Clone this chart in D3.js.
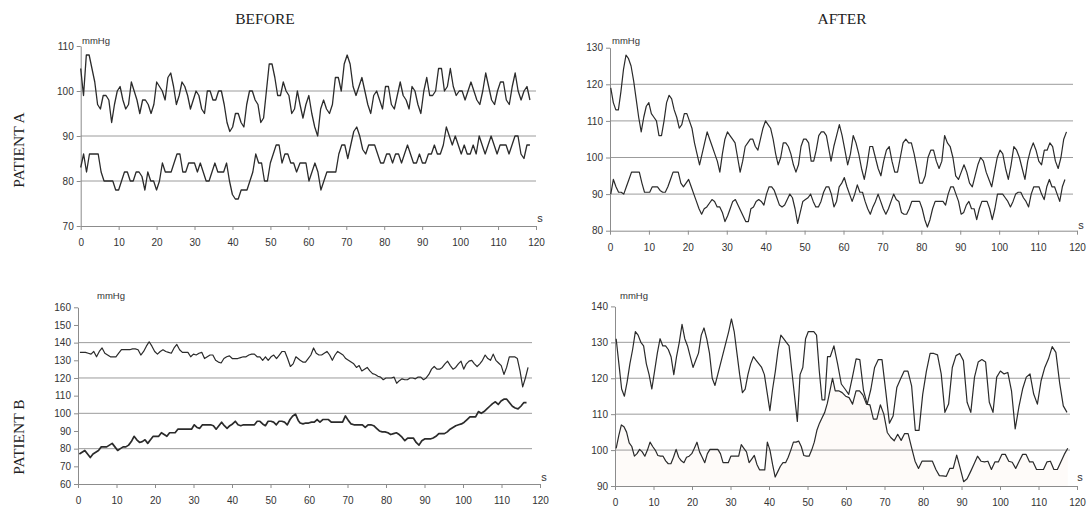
<!DOCTYPE html>
<html>
<head>
<meta charset="utf-8">
<script src="https://cdn.jsdelivr.net/npm/d3@7"></script>
<style>
  body { margin: 0; background: #fff; }
  svg text { font-family: "Liberation Sans", Arial, sans-serif; }
</style>
</head>
<body>
<script>
// ---- labels ----
var columnTitles = ["BEFORE", "AFTER"];
var rowTitles = ["PATIENT A", "PATIENT B"];
var unitY = "mmHg", unitX = "s";
var xTickValues = [0, 10, 20, 30, 40, 50, 60, 70, 80, 90, 100, 110, 120];

var yTicksBeforeA = [70, 80, 90, 100, 110];
var yTicksAfterA = [80, 90, 100, 110, 120, 130];
var yTicksBeforeB = [60, 70, 80, 90, 100, 110, 120, 130, 140, 150, 160];
var yTicksAfterB = [90, 100, 110, 120, 130, 140];

var gridBeforeA = [80, 90, 100];
var gridAfterA = [90, 100, 110, 120];
var gridBeforeB = [80, 100, 120, 140];
var gridAfterB = [100, 110, 120, 130];

// ---- series (mmHg; each part spread evenly over its time span in s) ----
var beforeA_sysA = [105,99,108,108,105,102,97,96,99,99,98,93,97,100,101,98,96,97,102,100,98,95,98,98,97,95,97,102,101,100,98,103,104,101,97,99,102,101,99,96,98,100,99,96,95,100,100,98,98,100,100,97,93,91,92,95,95,93,92,97,100,100,98,97,93,94,100,106,106,103,99,99,102,100,99,95,96,100];
var beforeA_sysB = [97,94,97,99,95,92,90,96,98,96,95,97,103,103,100,106,108,106,101,99,101,103,100,97,95,99,100,98,96,101,101,97,96,99,102,99,98,96,101,100,97,95,100,103,99,99,100,105,105,100,101,105,101,99,100,100,98,100,102,100,98,97,100,104,101,98,97,100,102,102,98,97,101,104,100,98,100,101,98];
var beforeA_sysSpans = [[0, 57.1], [57.8, 118.4]];

var beforeA_diaA = [83,86,82,86,86,86,86,82,80,80,80,80,78,78,80,82,82,80,80,82,82,81,78,82,80,80,78,80,84,82,82,82,84,86,86,82,82,84,84,84,82,84,82,80,80,82,84,82,82,82,84,80,77,76,76,78,78,78,80,82,86,84,84,80,80,84,86,88,88,84,86,86,84,84,82];
var beforeA_diaB = [84,84,84,80,82,84,82,78,80,82,82,82,82,86,88,88,85,88,91,92,90,87,86,88,88,88,86,84,84,86,86,84,86,86,84,86,88,86,84,84,86,84,84,86,86,88,86,86,88,92,90,88,90,88,86,88,86,86,88,86,90,88,86,88,90,88,86,88,88,88,86,88,90,90,86,85,88,88];
var beforeA_diaSpans = [[0, 56.9], [57.8, 118.4]];

var afterA_sysA = [119,115,113,113,118,124,128,127,125,121,116,111,107,111,114,115,112,111,110,106,106,110,115,117,116,113,111,108,109,112,112,110,108,104,101,98,101,104,107,105,103,101,99,96,101,105,107,106,105,104,100,96,99,103,104,105,105,103,102,105,108,110,109,108,105,101,98,100,104,104,103,101,98,96,98,103,105,105,104,99,99,102,106,107,107,106];
var afterA_sysB = [99,103,106,109,106,102,98,101,106,104,101,97,94,98,103,103,100,97,95,99,102,103,99,96,96,100,104,105,104,104,101,97,93,93,95,100,102,102,99,97,99,106,104,103,100,95,94,96,98,96,93,92,95,98,100,99,96,94,92,96,100,102,101,97,94,98,103,102,100,97,94,99,102,104,102,99,98,102,102,104,103,99,97,100,105,107];
var afterA_sysSpans = [[0.2, 55.6], [56.8, 117.3]];

var afterA_dia = [90,94,92,90.5,90.5,90,92,94,96,96,96,96,93,90.5,90.5,90.5,92,92,92,91,90.5,90.5,92,94,96,96,96,93,92,93,94,92,90,88,86,84.5,86,86.5,87.5,88.5,88,86.5,86.5,85,82.5,84,86,88,88.5,87,85.5,84,82.5,82.5,86,86.5,88,88.5,88,87,90,92,92,91,89,87,86.5,87,88.5,90,89,86,82,85,88,88.5,89,90,88,86.5,86.5,88,90.5,92,92,90,86.5,88,92,93,94.5,92,90,88,90,92.5,90.5,90.5,88,86,84.5,86.5,88,90,88,86,84.5,86,88,90,88.5,88,85,84.5,84.5,86,88,88,88,88,86,83,81,83,86,88,88,88,88,87,90,92,92,90,88,84.5,85,87,88,86,86,83,86,88,88,88,86,83,86,90,90,90,89,88,86.5,88,90,90.5,90.5,89,88,86.5,90,92,92,92,90,88.5,92,94,92,92,90,88,92,94];
var afterA_diaSpans = [[0.2, 116.9]];

var beforeB_sysA = [134.5,134.5,134.5,134,133.5,135,132,135,137,134,133,132,132,132,134,136,136,136,136,136.5,136.5,136,133,135,138,140.5,138,135,133.5,135,136,135,134.5,134,137,139,136,134.5,134.5,134.5,132,133.5,133,134,134.5,131,132,133,133,130,129,128.5,131,132,132.5,131,131,131,131.5,132,132,133,133.5,133.5,132,132,130,132,130,132,133,131,133,135,135,131,126.5,128,132];
var beforeB_sysB = [130,129,129,131,133,137,134,133,133,134,135,133,130,133,135,134,133,131,130,129,128,126,127,124,125,126,124,122.5,122,121,120.5,119,120,120,120,120.5,117,118.5,119.5,119,119,120,120,119.5,120.5,120.5,119,120,122,125,126.5,125,125,126,128,129.5,127,125,126,128,129.5,125,128,129.5,130,128,126.5,128,130,133,131,130,133.5,130,128.5,127,122,126,132,132,132,131,124,115,120,126];
var beforeB_sysSpans = [[0.5, 56.6], [57.7, 116.9]];

var beforeB_diaA = [77,78,79,77,75,77,78,79,81,81,81,82,83,81,79,80,81,81,82,84,87,85,83.5,84,85,83,85,87,87,87,89,88,87,89,89,89,91,91,91,91,91,91,93.5,92,91.5,93.5,93.5,93.5,93.5,93,91,93,95,93,91.5,93,94,95.5,93.5,93,93.5,93.5,93.5,93.5,93.5,95.5,95.5,94,93,95.5,95.5,95,93.5,95.5,95.5,95,93.5,96.5,98.5,99.5,96];
var beforeB_diaB = [94.5,94,94.5,94.5,95,95,96.5,95,96.5,96.5,96.5,95,95,95,95,95,98.5,96,94,93.5,93.5,93.5,93.5,92,93.5,93.5,93,91.5,90,89.5,89.5,89,88,88.5,89,88,86.5,84.5,86,86,86,83.5,82,84.5,85.5,85.5,85.5,86,87,88.5,88.5,88.5,89.5,91,92,93,93.5,94,95,96.5,98,98,98,101,100,101,102.5,104,105.5,106.5,105,107,108,108,106,104,103,102.5,104,106,106];
var beforeB_diaSpans = [[0.35, 57.2], [57.7, 116.5]];

var afterB_sysA = [131,124,117,115,119,124,128,133,132,130,129,124,121,117,122,127,131,129,129,128,126,121,126,130,135,131,129,126,123,125,127,132,134,131,127,120,118,121,124,127,130,133,136.5,133,127,121,116,117,121,124,126,125,124,123,121,116,111,117,122,128,132,131,130,129,122,115,108,121,123,131,133,133,133,132,122,114,114,126];
var afterB_sysB = [126,129,124,118.4,117,115.5,120.3,125.4,125.2,116.6,112.8,117,123,125.2,125.2,116.5,107.5,109.5,117.4,119.8,122,122,117.9,105.5,105.5,115.5,122,126.9,126.9,126.5,121.2,110.5,112.8,123,126.3,126.9,124.9,113.3,110.5,120.3,124.5,125.2,124.5,113.3,110.5,120.3,122,121.2,121.6,116.5,105.9,112,117,120.3,121.2,115.6,112.8,119.3,123,125.4,128.8,127.2,118.8,112.3,110.5];
var afterB_sysSpans = [[0.3, 55.2], [55.9, 117.4]];

var afterB_diaA = [100.5,104,107,106.5,105,102,101,98.3,99,100.2,99.5,98.3,100,102.2,101,100,98.5,98.3,98.3,97,96.2,96.2,98,100.2,98,97,96.5,98,98.3,99,100.5,102.2,99.5,98,96.5,99,100.2,100.2,100.2,100.2,99,96.5,96.5,96.5,98.3,98.3,98.3,98.3,101.5,100.5,99.5,96.5,97.5,98.5,96,94.5,94.5,94.5,102.2,100,96,92.5,94,95.5,96.5,96.5,98,100,102.2,102.2,102.5,101,98.5,98.3,98.3,100,102.2,105.5,107.5,109,110.5,113,116.5,120];
var afterB_diaB = [116.5,116.5,116,115,114.6,112.8,116.5,116.5,115.3,112.8,112.6,108.6,108.6,112.6,110,104.9,103.5,102.6,104.4,102.7,104.6,104.6,100.7,96.9,94.9,96.9,96.9,96.9,96.9,94.6,92.9,92.8,92.7,94.9,94.9,98.6,95,91.2,92,94,96.1,98.3,96.9,96.7,96.9,94.6,96.7,96.7,98.8,98.8,96.9,96.6,94.9,96.9,98.8,98.8,96.7,96.7,94.6,94.6,94.6,96.7,96.9,94.6,94.6,96.7,98.8,100.5];
var afterB_diaSpans = [[0.3, 56.5], [57.2, 117.6]];

// ---- layout ----
var W = 1091, H = 508;
var panels = [
  { x0: 80.7, x1: 536, y0: 226, y1: 46, dom: [70, 110], yTicks: yTicksBeforeA, grid: gridBeforeA, gridEnd: 536,
    series: [[[beforeA_sysA, beforeA_sysB], beforeA_sysSpans, 1.3], [[beforeA_diaA, beforeA_diaB], beforeA_diaSpans, 1.3]],
    unit: [82, 44], s: [540, 222] },
  { x0: 610, x1: 1077, y0: 230.7, y1: 47.7, dom: [80, 130], yTicks: yTicksAfterA, grid: gridAfterA, gridEnd: 1073,
    series: [[[afterA_sysA, afterA_sysB], afterA_sysSpans, 1.2], [[afterA_dia], afterA_diaSpans, 1.2]],
    unit: [612, 44], s: [1081, 229] },
  { x0: 78, x1: 540, y0: 484, y1: 307.3, dom: [60, 160], yTicks: yTicksBeforeB, grid: gridBeforeB, gridEnd: 532,
    series: [[[beforeB_sysA, beforeB_sysB], beforeB_sysSpans, 1.2], [[beforeB_diaA, beforeB_diaB], beforeB_diaSpans, 1.7]],
    unit: [97, 299], s: [544, 481] },
  { x0: 615, x1: 1077, y0: 486, y1: 306.4, dom: [90, 140], yTicks: yTicksAfterB, grid: gridAfterB, gridEnd: 1070,
    series: [[[afterB_sysA, afterB_sysB], afterB_sysSpans, 1.2], [[afterB_diaA, afterB_diaB], afterB_diaSpans, 1.2]],
    unit: [620, 299], s: [1080, 481], fillLower: true }
];

var svg = d3.select("body").append("svg")
  .attr("width", W)
  .attr("height", H);

function toPoints(parts, spans) {
  var pts = [];
  parts.forEach(function(vals, k) {
    var t = d3.scaleLinear().domain([0, vals.length - 1]).range(spans[k]);
    vals.forEach(function(v, i) { pts.push({ t: t(i), v: v }); });
  });
  return pts;
}

panels.forEach(function(p) {
  var x = d3.scaleLinear().domain([0, 120]).range([p.x0, p.x1]);
  var y = d3.scaleLinear().domain(p.dom).range([p.y0, p.y1]);
  var g = svg.append("g");

  var lines = p.series.map(function(s) { return toPoints(s[0], s[1]); });

  // very faint fill under the lower trace (after, patient B)
  if (p.fillLower) {
    g.append("path")
      .datum(lines[1])
      .attr("d", d3.area()
        .x(function(d) { return x(d.t); })
        .y0(p.y0)
        .y1(function(d) { return y(d.v); }))
      .attr("fill", "#fefbf9");
  }

  // horizontal grid
  g.selectAll("line.grid")
    .data(p.grid)
    .enter().append("line")
    .attr("class", "grid")
    .attr("x1", p.x0).attr("x2", p.gridEnd)
    .attr("y1", function(d) { return y(d); })
    .attr("y2", function(d) { return y(d); })
    .attr("stroke", "#9c9c9c")
    .attr("stroke-width", 1);

  // axes
  var ax = g.append("g")
    .attr("transform", "translate(0," + p.y0 + ")")
    .call(d3.axisBottom(x).tickValues(xTickValues).tickSize(4).tickSizeOuter(0).tickPadding(9));
  var ay = g.append("g")
    .attr("transform", "translate(" + p.x0 + ",0)")
    .call(d3.axisLeft(y).tickValues(p.yTicks).tickSize(4).tickSizeOuter(0).tickPadding(3));
  [ax, ay].forEach(function(a) {
    a.selectAll("path, line").attr("stroke", "#8c8c8c");
    a.selectAll("text")
      .attr("fill", "#333")
      .style("font-family", "'Liberation Sans', Arial, sans-serif")
      .style("font-size", "10px");
  });

  // series
  lines.forEach(function(pts, k) {
    g.append("path")
      .datum(pts)
      .attr("fill", "none")
      .attr("stroke", "#2b2b2b")
      .attr("stroke-width", p.series[k][2])
      .attr("stroke-linejoin", "round")
      .attr("d", d3.line()
        .x(function(d) { return x(d.t); })
        .y(function(d) { return y(d.v); }));
  });

  g.append("text")
    .attr("x", p.unit[0]).attr("y", p.unit[1])
    .attr("font-size", 9.5).attr("fill", "#333")
    .text(unitY);
  g.append("text")
    .attr("x", p.s[0]).attr("y", p.s[1])
    .attr("text-anchor", "middle")
    .attr("font-size", 11).attr("fill", "#333")
    .text(unitX);
});

// column and row titles
svg.selectAll("text.col")
  .data(columnTitles)
  .enter().append("text")
  .attr("class", "col")
  .attr("x", function(d, i) { return [265, 842][i]; })
  .attr("y", 24)
  .attr("text-anchor", "middle")
  .style("font-family", "'Liberation Serif', 'Times New Roman', serif")
  .style("font-size", "15.5px")
  .attr("fill", "#222")
  .text(function(d) { return d; });

svg.selectAll("text.row")
  .data(rowTitles)
  .enter().append("text")
  .attr("class", "row")
  .attr("transform", function(d, i) { return "translate(24," + [150, 437][i] + ") rotate(-90)"; })
  .attr("text-anchor", "middle")
  .style("font-family", "'Liberation Serif', 'Times New Roman', serif")
  .style("font-size", "15.5px")
  .attr("fill", "#222")
  .text(function(d) { return d; });
</script>
</body>
</html>
